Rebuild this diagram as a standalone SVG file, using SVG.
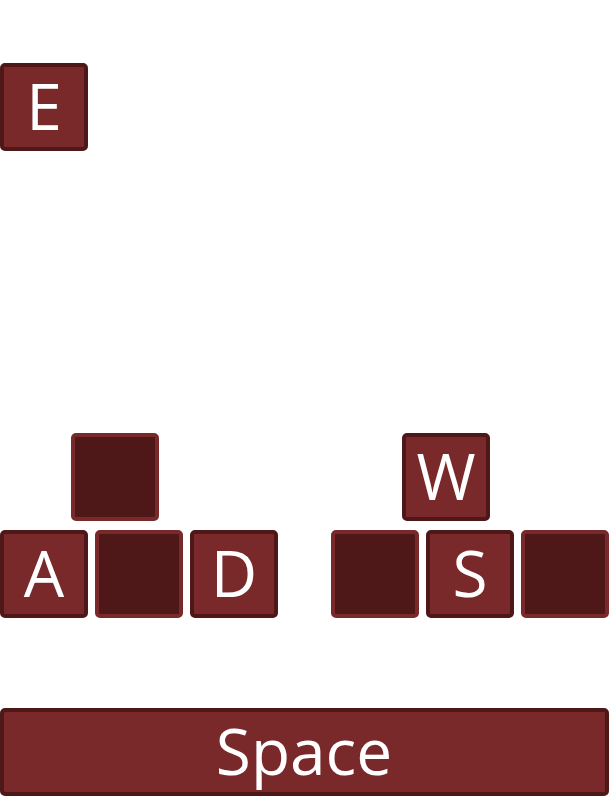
<svg xmlns="http://www.w3.org/2000/svg" width="610" height="796" viewBox="0 0 610 796">
<style>
.light{fill:#7a292b;stroke:#4e1819;stroke-width:4}
.dark{fill:#4e1819;stroke:#7a292b;stroke-width:4}
.lbl{fill:#ffffff;font-family:"Open Sans","Liberation Sans",sans-serif;font-size:64px;text-anchor:middle}
</style>
<rect width="610" height="796" fill="#ffffff"/>
<g id="key-E"><rect class="light" x="2" y="65" width="84" height="84" rx="3"/><text class="lbl" x="44" y="130">E</text></g>
<g id="key-up-left"><rect class="dark" x="73" y="435" width="84" height="84" rx="3"/></g>
<g id="key-A"><rect class="light" x="2" y="532" width="84" height="84" rx="3"/><text class="lbl" x="44" y="597">A</text></g>
<g id="key-down-left"><rect class="dark" x="97" y="532" width="84" height="84" rx="3"/></g>
<g id="key-D"><rect class="light" x="192" y="532" width="84" height="84" rx="3"/><text class="lbl" x="234" y="597">D</text></g>
<g id="key-W"><rect class="light" x="404" y="435" width="84" height="84" rx="3"/><text class="lbl" x="446" y="500">W</text></g>
<g id="key-left-right"><rect class="dark" x="333" y="532" width="84" height="84" rx="3"/></g>
<g id="key-S"><rect class="light" x="428" y="532" width="84" height="84" rx="3"/><text class="lbl" x="470" y="597">S</text></g>
<g id="key-right-right"><rect class="dark" x="523" y="532" width="84" height="84" rx="3"/></g>
<g id="key-Space"><rect class="light" x="2" y="710" width="605" height="84" rx="3"/><text class="lbl" x="304" y="775">Space</text></g>
<g id="connectors"></g>
</svg>
